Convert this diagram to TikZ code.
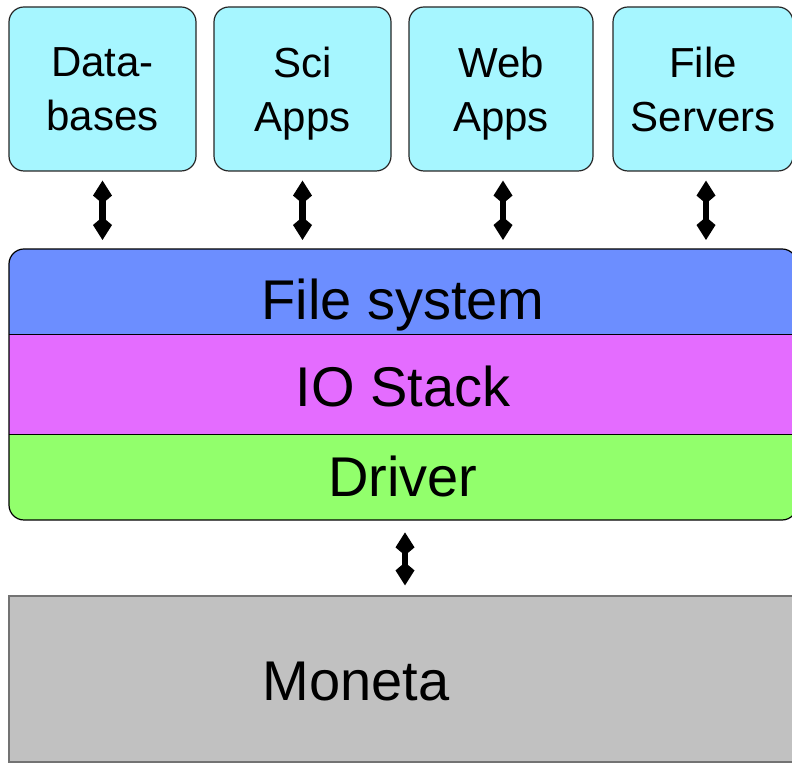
\documentclass[tikz,border=0pt]{standalone}
\usepackage{fontspec}
\setmainfont{Liberation Sans}
\usetikzlibrary{arrows.meta}
\definecolor{appcyan}{RGB}{166,246,255}
\definecolor{fsblue}{RGB}{108,142,255}
\definecolor{iomagenta}{RGB}{228,108,255}
\definecolor{drvgreen}{RGB}{146,255,108}
\definecolor{monetagray}{RGB}{193,193,193}
\tikzset{>={Kite[length=11.5pt,width=9.5pt,inset=4pt]}}
\tikzset{
  app/.style={draw=black!85, fill=appcyan, rounded corners=7.5pt, line width=0.6pt,
    align=center, inner sep=0pt, text depth=0pt, minimum height=82pt,
    font=\fontsize{21}{27}\selectfont},
  layer/.style={fill=#1, minimum width=394pt, inner sep=0pt,
    font=\fontsize{28}{33}\selectfont},
  link/.style={<->, line width=3.2pt, shorten <=4.5pt, shorten >=4.5pt}
}

\begin{document}
\begin{tikzpicture}[x=0.5pt,y=-0.5pt]
  \useasboundingbox (0,0) rectangle (792,763);
  % applications
  \node[app, minimum width=93.5pt] (db) at (102.5,89) {Data-\\bases};
  \node[app, minimum width=88.5pt] (sci) at (302.5,89) {Sci\\Apps};
  \node[app, minimum width=92pt] (web) at (501,89) {Web\\Apps};
  \node[app, minimum width=90pt] (fsrv) at (703,89) {File\\Servers};
  % the stack
  \begin{scope}
    \clip[rounded corners=7.5pt] (9,249) rectangle (797,520);
    \node[layer=fsblue, text height=35pt, text depth=7.5pt, anchor=north] (fs) at (403,249) {File system};
    \node[layer=iomagenta, text height=35.5pt, text depth=14pt, anchor=north] (io) at (fs.south) {IO Stack};
    \node[layer=drvgreen, text height=31pt, text depth=12.5pt, anchor=north] (drv) at (io.south) {Driver};
  \end{scope}
  \draw[line width=0.6pt] (fs.south west) -- (fs.south east);
  \draw[line width=0.6pt] (io.south west) -- (io.south east);
  \draw[line width=0.6pt, rounded corners=7.5pt] (9,249) rectangle (797,520);
  % device
  \node[draw=black!55, fill=monetagray, line width=0.6pt, minimum width=405.5pt, minimum height=83pt] (moneta) at (414.5,679) {};
  \node[anchor=base, font=\fontsize{28}{33}\selectfont] (monetatxt) at (356,700) {Moneta};
  % links
  \draw[link] (db.south) -- (db.south |- fs.north);
  \draw[link] (sci.south) -- (sci.south |- fs.north);
  \draw[link] ([xshift=1pt]web.south) -- ([xshift=1pt]web.south |- fs.north);
  \draw[link] ([xshift=1.5pt]fsrv.south) -- ([xshift=1.5pt]fsrv.south |- fs.north);
  \draw[link, shorten <=5pt, shorten >=5pt] ([xshift=1pt]drv.south) -- ([xshift=1pt]drv.south |- moneta.north);
\end{tikzpicture}
\end{document}
